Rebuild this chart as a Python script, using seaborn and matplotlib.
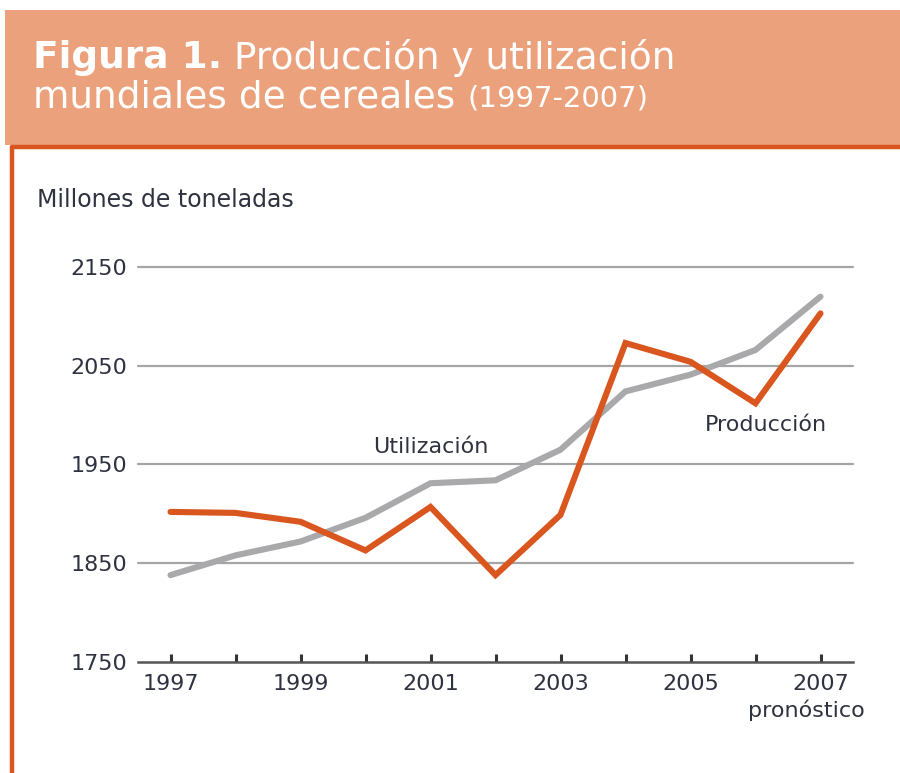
import matplotlib
matplotlib.use("Agg")
import matplotlib.pyplot as plt
from matplotlib.patches import Rectangle
from matplotlib.lines import Line2D

import pandas as pd
import seaborn as sns

# Data (millions of tonnes)
years = [1997, 1998, 1999, 2000, 2001, 2002, 2003, 2004, 2005, 2006, 2007]
produccion = [1902, 1901, 1892, 1863, 1907, 1838, 1899, 2073, 2054, 2012, 2103]
utilizacion = [1838, 1858, 1872, 1896, 1931, 1934, 1965, 2024, 2041, 2066, 2120]
y_ticks = [1750, 1850, 1950, 2050, 2150]
x_labels = ["1997", "", "1999", "", "2001", "", "2003", "", "2005", "", "2007"]

ORANGE = "#D9561F"
SALMON = "#EBA27C"
GREY_LINE = "#A9A9AB"
GRID = "#A5A5A5"
TEXT = "#2F3340"

sns.set_theme(style="white")
plt.rcParams["font.family"] = ["DejaVu Sans"]

df = pd.DataFrame({
    "year": years * 2,
    "value": utilizacion + produccion,
    "serie": ["Utilización"] * len(years) + ["Producción"] * len(years),
})

fig = plt.figure(figsize=(9, 7.73), dpi=100)
fig.patch.set_facecolor("white")

# header band and frame lines
fig.patches.append(Rectangle((5 / 900, 1 - 145 / 773), 1 - 5 / 900, 135 / 773,
                             transform=fig.transFigure, facecolor=SALMON,
                             edgecolor="none", zorder=0))
fig.lines.append(Line2D([12 / 900, 1], [1 - 147 / 773, 1 - 147 / 773],
                        transform=fig.transFigure, color=ORANGE, lw=3.2))
fig.lines.append(Line2D([12 / 900, 12 / 900], [0, 1 - 147 / 773],
                        transform=fig.transFigure, color=ORANGE, lw=3.2))

ax = fig.add_axes([138 / 900, 1 - 662 / 773, 715 / 900, 395 / 773])
ax.set_facecolor("none")

for y in y_ticks[1:]:
    ax.axhline(y, color=GRID, lw=1.6, zorder=1)

sns.lineplot(data=df, x="year", y="value", hue="serie",
             palette={"Utilización": GREY_LINE, "Producción": ORANGE},
             hue_order=["Utilización", "Producción"],
             lw=4.4, legend=False, ax=ax, zorder=3)
for line in ax.lines:
    line.set_clip_on(False)
    line.set_solid_joinstyle("miter")

ax.set_xlim(1996.5, 2007.5)
ax.set_ylim(1750, 2150)
ax.set_xticks(years)
ax.set_xticklabels(x_labels)
ax.set_yticks(y_ticks)
ax.set_xlabel("")
ax.set_ylabel("")

for side in ["top", "right", "left"]:
    ax.spines[side].set_visible(False)
ax.spines["bottom"].set_color("#555555")
ax.spines["bottom"].set_linewidth(1.8)
ax.spines["bottom"].set_zorder(4)

ax.tick_params(axis="x", bottom=True, direction="in", length=6, width=2.2,
               color="#333333", pad=9, labelsize=16, labelcolor=TEXT)
ax.tick_params(axis="y", left=False, length=0, pad=8, labelsize=16,
               labelcolor=TEXT)

# series labels
ax.text(2001.0, 1968, "Utilización", ha="center", va="center",
        fontsize=16, color=TEXT)
ax.text(2006.16, 1990, "Producción", ha="center", va="center",
        fontsize=16, color=TEXT)
ax.text(2006.78, -0.122, "pronóstico", ha="center", va="center",
        fontsize=16, color=TEXT, transform=ax.get_xaxis_transform())

fig.text(37 / 900, 1 - 200 / 773, "Millones de toneladas", ha="left",
         va="center", fontsize=17, color=TEXT)

# title, bold part followed by normal part
fig.canvas.draw()
renderer = fig.canvas.get_renderer()
t1 = fig.text(33 / 900, 1 - 58 / 773, "Figura 1.", ha="left", va="center",
              fontsize=27, fontweight="bold", color="white")
bb = t1.get_window_extent(renderer)
fig.text((bb.x1 + 12) / 900, 1 - 58 / 773, "Producción y utilización",
         ha="left", va="center", fontsize=27, color="white")
t3 = fig.text(33 / 900, 1 - 97 / 773, "mundiales de cereales", ha="left",
              va="center", fontsize=27, color="white")
bb3 = t3.get_window_extent(renderer)
fig.text((bb3.x1 + 12) / 900, 1 - 99 / 773, "(1997-2007)", ha="left",
         va="center", fontsize=21, color="white")

fig.savefig("out.png", dpi=100)
